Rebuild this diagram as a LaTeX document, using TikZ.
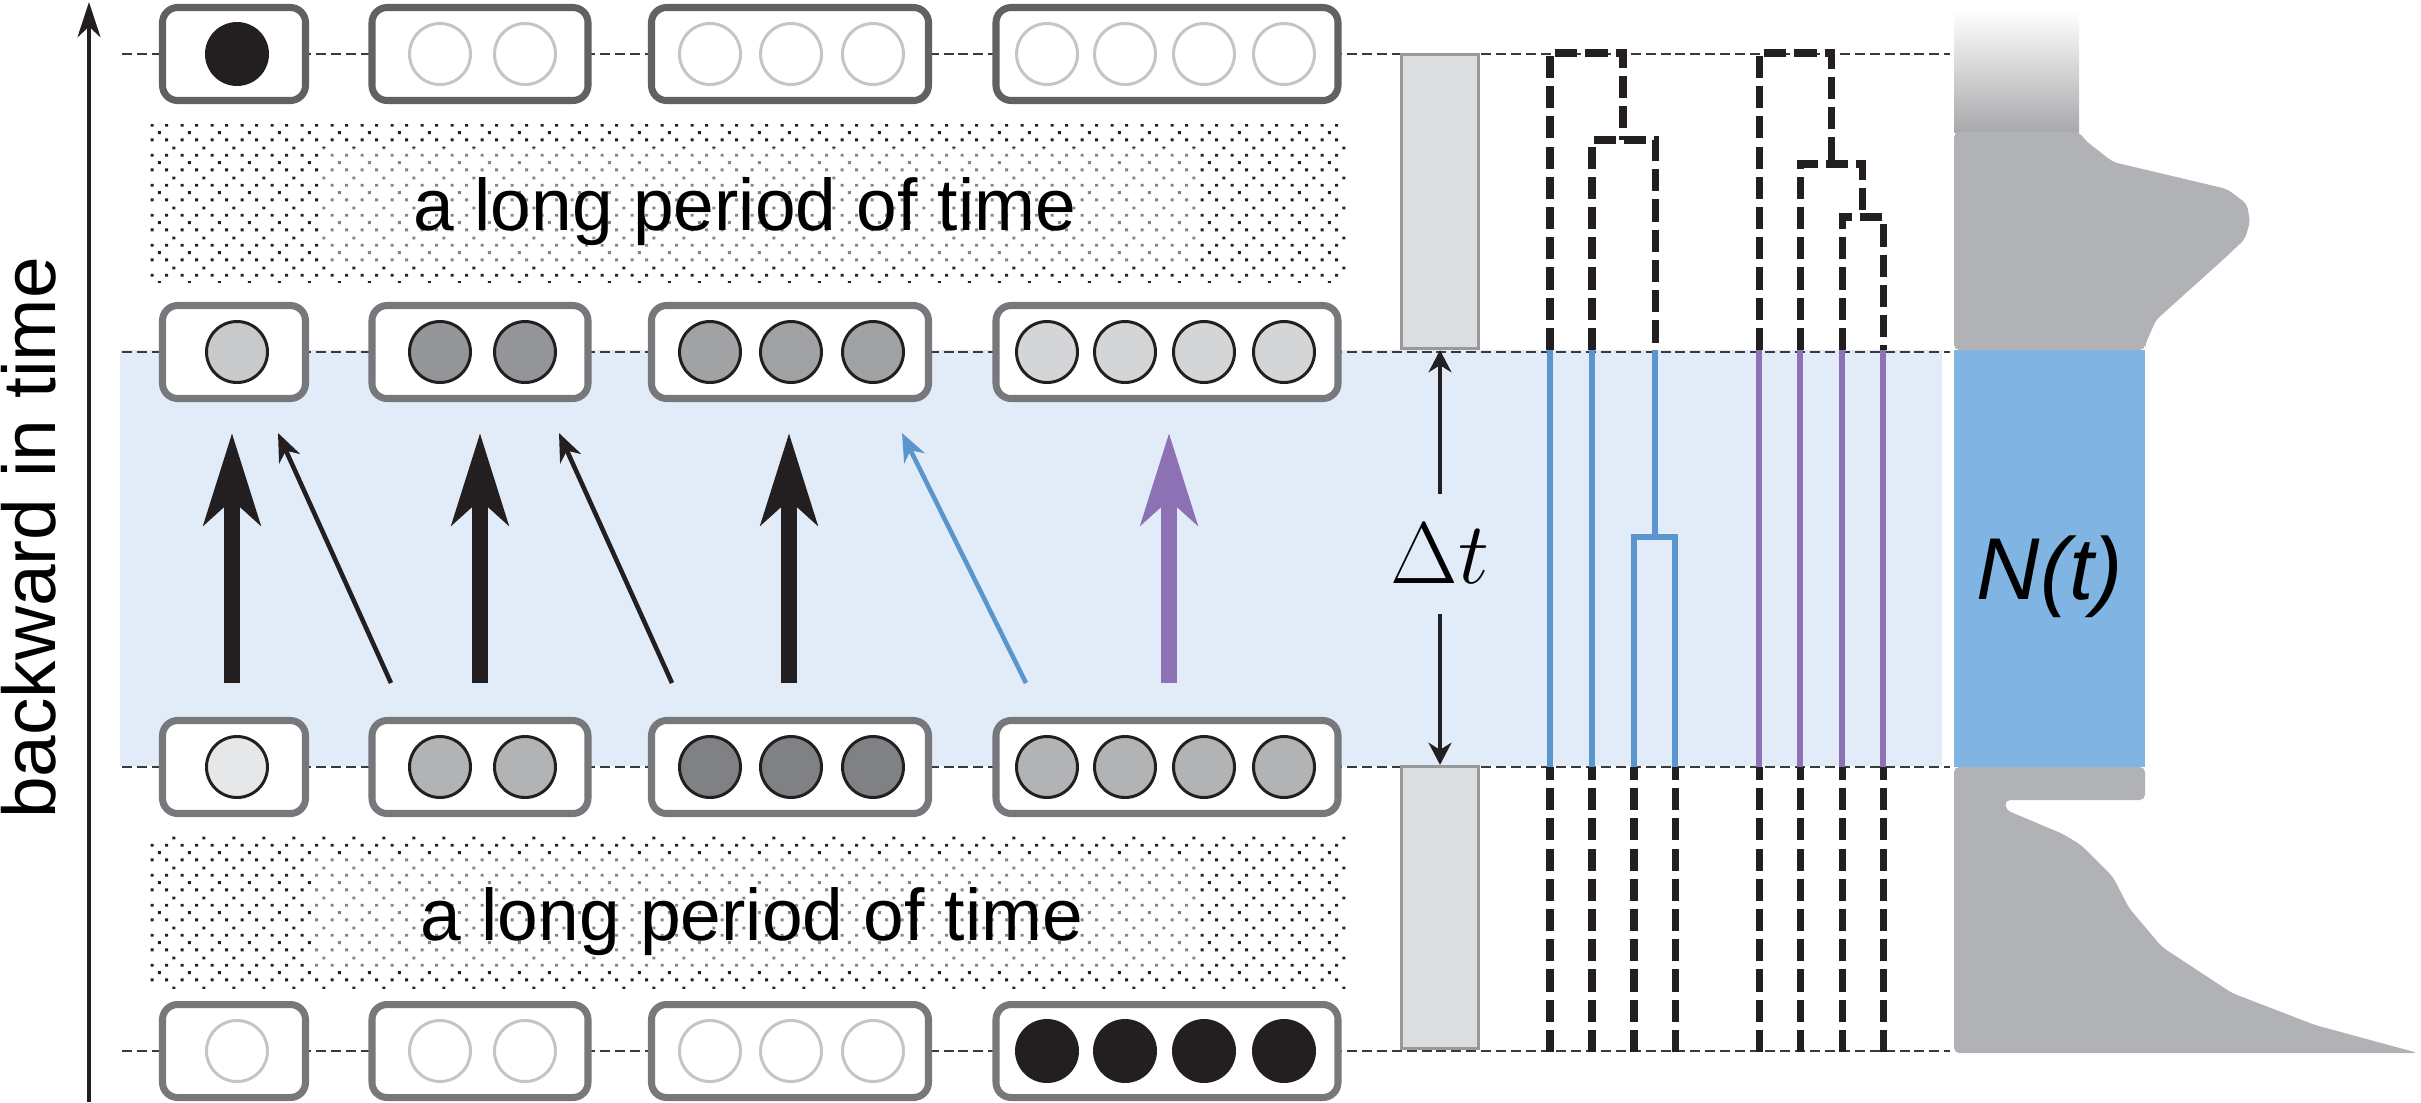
\documentclass[tikz,border=0pt]{standalone}
\usepackage{fontspec}
\newfontfamily\labelfont{Liberation Sans}
\usetikzlibrary{arrows.meta}
\usetikzlibrary{patterns.meta}
\definecolor{bandColor}{HTML}{E1ECF8}
\definecolor{nColor}{HTML}{80B5E3}
\definecolor{lineBlue}{HTML}{5A96CD}
\definecolor{linePurple}{HTML}{8C72B4}
\definecolor{inkColor}{HTML}{231F20}
\definecolor{rowColor}{HTML}{3A3A3C}
\definecolor{boxColor}{HTML}{77787B}
\definecolor{boxColorTop}{HTML}{606163}
\definecolor{emptyColor}{HTML}{C4C5C7}
\definecolor{spanFill}{HTML}{DCDDDF}
\definecolor{spanDraw}{HTML}{98999B}
\definecolor{profileColor}{HTML}{B1B2B5}
\definecolor{profileTop}{HTML}{A8A9AB}
\definecolor{greyA}{HTML}{C8C9CB}
\definecolor{greyB}{HTML}{939598}
\definecolor{greyC}{HTML}{A0A2A4}
\definecolor{greyD}{HTML}{D4D5D7}
\definecolor{greyE}{HTML}{E6E7E8}
\definecolor{greyF}{HTML}{B2B3B5}
\definecolor{greyG}{HTML}{7F8184}

\tikzdeclarepattern{
  name=stipple,
  type=uncolored,
  bottom left={(0pt,0pt)},
  top right={(8.54pt,8.54pt)},
  tile size={(8.54pt,8.54pt)},
  code={
    \fill (0.2pt,0.2pt) rectangle (1.05pt,1.05pt);
    \fill (4.47pt,0.2pt) rectangle (5.32pt,1.05pt);
    \fill (0.2pt,4.47pt) rectangle (1.05pt,5.32pt);
    \fill (4.47pt,4.47pt) rectangle (5.32pt,5.32pt);
    \fill (2.33pt,2.33pt) rectangle (3.18pt,3.18pt);
    \fill (6.6pt,6.6pt) rectangle (7.45pt,7.45pt);
  }
}

\begin{document}
\begin{tikzpicture}

          \tikzstyle{rowLine} = [draw=rowColor,line width=0.7pt,dash pattern=on 2.85pt off 1.4pt];
          \tikzstyle{popBox} = [draw=boxColor,line width=2pt,rounded corners=4.3pt,fill=white,minimum height=0.93cm,inner sep=0pt];
          \tikzstyle{popBoxTop} = [popBox,draw=boxColorTop];
          \tikzstyle{ind} = [circle,draw=inkColor,line width=0.85pt,minimum size=0.61cm,inner sep=0pt];
          \tikzstyle{emptyInd} = [ind,draw=emptyColor,fill=white];
          \tikzstyle{blackInd} = [ind,fill=inkColor];
          \tikzstyle{bigArrow} = [line width=4.5pt,-{Stealth[length=26pt,width=16pt,inset=7pt]}];
          \tikzstyle{thinArrow} = [line width=1.3pt,-{Stealth[length=8pt,width=6.5pt,inset=2.5pt]}];
          \tikzstyle{oldLine} = [draw=inkColor,line width=2pt,dash pattern=on 6.3pt off 2.3pt];
          \tikzstyle{newLine} = [line width=1.6pt];
          \tikzstyle{spanBox} = [draw=spanDraw,fill=spanFill,line width=0.9pt,minimum width=0.77cm,inner sep=0pt];
          \tikzstyle{dtArrow} = [line width=1.2pt,-{Stealth[length=6.3pt,width=6.5pt,inset=2pt]}];
          \tikzstyle{periodText} = [font=\labelfont\fontsize{20.8}{25}\selectfont,inner sep=0pt,anchor=base];

          \useasboundingbox (0,0) rectangle (24.21,-11.02);

          % the window in time
          \fill[bandColor] (1.20,-3.50) rectangle (19.42,-7.66);
          \draw[rowLine] (1.22,-0.54) -- (19.50,-0.54);
          \draw[rowLine] (1.22,-3.52) -- (19.50,-3.52);
          \draw[rowLine] (1.22,-7.67) -- (19.50,-7.67);
          \draw[rowLine] (1.22,-10.51) -- (19.50,-10.51);

          % long periods
          \fill[pattern=stipple,pattern color=inkColor] (1.50,-1.24) rectangle (13.48,-2.82);
          \fill[white,opacity=0.45] (3.20,-1.48) rectangle (12.00,-2.62);
          \fill[pattern=stipple,pattern color=inkColor] (1.49,-8.32) rectangle (13.47,-9.88);
          \fill[white,opacity=0.45] (3.15,-8.57) rectangle (11.98,-9.67);
          \node[periodText] (period1) at (7.45,-2.30) {a long period of time};
          \node[periodText] (period2) at (7.52,-9.40) {a long period of time};

          % time axis
          \coordinate (axisBot) at (0.89,-11.02);
          \coordinate (axisTop) at (0.89,-0.02);
          \draw[inkColor,line width=1.3pt,-{Stealth[length=10pt,width=6.5pt,inset=3pt]}] (axisBot) -- (axisTop);
          \node[font=\labelfont\fontsize{21.3}{26}\selectfont,rotate=90,anchor=base,inner sep=0pt] (axisLabel) at (0.55,-5.38) {backward in time};

          % row 1
          \node[popBoxTop,minimum width=1.43cm] (box11) at (2.34,-0.54) {};
          \node[popBoxTop,minimum width=2.16cm] (box12) at (4.80,-0.54) {};
          \node[popBoxTop,minimum width=2.77cm] (box13) at (7.90,-0.54) {};
          \node[popBoxTop,minimum width=3.42cm] (box14) at (11.67,-0.54) {};
          \node[blackInd] (c11a) at (2.37,-0.54) {};
          \node[emptyInd] (c12a) at (4.40,-0.54) {};
          \node[emptyInd] (c12b) at (5.25,-0.54) {};
          \node[emptyInd] (c13a) at (7.10,-0.54) {};
          \node[emptyInd] (c13b) at (7.91,-0.54) {};
          \node[emptyInd] (c13c) at (8.73,-0.54) {};
          \node[emptyInd] (c14a) at (10.47,-0.54) {};
          \node[emptyInd] (c14b) at (11.25,-0.54) {};
          \node[emptyInd] (c14c) at (12.04,-0.54) {};
          \node[emptyInd] (c14d) at (12.84,-0.54) {};

          % row 2
          \node[popBox,minimum width=1.43cm] (box21) at (2.34,-3.52) {};
          \node[popBox,minimum width=2.16cm] (box22) at (4.80,-3.52) {};
          \node[popBox,minimum width=2.77cm] (box23) at (7.90,-3.52) {};
          \node[popBox,minimum width=3.42cm] (box24) at (11.67,-3.52) {};
          \node[ind,fill=greyA] (c21a) at (2.37,-3.52) {};
          \node[ind,fill=greyB] (c22a) at (4.40,-3.52) {};
          \node[ind,fill=greyB] (c22b) at (5.25,-3.52) {};
          \node[ind,fill=greyC] (c23a) at (7.10,-3.52) {};
          \node[ind,fill=greyC] (c23b) at (7.91,-3.52) {};
          \node[ind,fill=greyC] (c23c) at (8.73,-3.52) {};
          \node[ind,fill=greyD] (c24a) at (10.47,-3.52) {};
          \node[ind,fill=greyD] (c24b) at (11.25,-3.52) {};
          \node[ind,fill=greyD] (c24c) at (12.04,-3.52) {};
          \node[ind,fill=greyD] (c24d) at (12.84,-3.52) {};

          % row 3
          \node[popBox,minimum width=1.43cm] (box31) at (2.34,-7.67) {};
          \node[popBox,minimum width=2.16cm] (box32) at (4.80,-7.67) {};
          \node[popBox,minimum width=2.77cm] (box33) at (7.90,-7.67) {};
          \node[popBox,minimum width=3.42cm] (box34) at (11.67,-7.67) {};
          \node[ind,fill=greyE] (c31a) at (2.37,-7.67) {};
          \node[ind,fill=greyF] (c32a) at (4.40,-7.67) {};
          \node[ind,fill=greyF] (c32b) at (5.25,-7.67) {};
          \node[ind,fill=greyG] (c33a) at (7.10,-7.67) {};
          \node[ind,fill=greyG] (c33b) at (7.91,-7.67) {};
          \node[ind,fill=greyG] (c33c) at (8.73,-7.67) {};
          \node[ind,fill=greyF] (c34a) at (10.47,-7.67) {};
          \node[ind,fill=greyF] (c34b) at (11.25,-7.67) {};
          \node[ind,fill=greyF] (c34c) at (12.04,-7.67) {};
          \node[ind,fill=greyF] (c34d) at (12.84,-7.67) {};

          % row 4
          \node[popBox,minimum width=1.43cm] (box41) at (2.34,-10.51) {};
          \node[popBox,minimum width=2.16cm] (box42) at (4.80,-10.51) {};
          \node[popBox,minimum width=2.77cm] (box43) at (7.90,-10.51) {};
          \node[popBox,minimum width=3.42cm] (box44) at (11.67,-10.51) {};
          \node[emptyInd] (c41a) at (2.37,-10.51) {};
          \node[emptyInd] (c42a) at (4.40,-10.51) {};
          \node[emptyInd] (c42b) at (5.25,-10.51) {};
          \node[emptyInd] (c43a) at (7.10,-10.51) {};
          \node[emptyInd] (c43b) at (7.91,-10.51) {};
          \node[emptyInd] (c43c) at (8.73,-10.51) {};
          \node[blackInd] (c44a) at (10.47,-10.51) {};
          \node[blackInd] (c44b) at (11.25,-10.51) {};
          \node[blackInd] (c44c) at (12.04,-10.51) {};
          \node[blackInd] (c44d) at (12.84,-10.51) {};

          % ancestry within the window
          \coordinate (from1) at (2.32,-6.83);
          \coordinate (to1) at (2.32,-4.33);
          \coordinate (from2) at (3.91,-6.83);
          \coordinate (to2) at (2.78,-4.33);
          \coordinate (from3) at (4.80,-6.83);
          \coordinate (to3) at (4.80,-4.33);
          \coordinate (from4) at (6.72,-6.83);
          \coordinate (to4) at (5.59,-4.33);
          \coordinate (from5) at (7.89,-6.83);
          \coordinate (to5) at (7.89,-4.33);
          \coordinate (from6) at (10.26,-6.83);
          \coordinate (to6) at (9.02,-4.33);
          \coordinate (from7) at (11.69,-6.83);
          \coordinate (to7) at (11.69,-4.33);
          \draw[bigArrow,inkColor] (from1) -- (to1);
          \draw[thinArrow,inkColor] (from2) -- (to2);
          \draw[bigArrow,inkColor] (from3) -- (to3);
          \draw[thinArrow,inkColor] (from4) -- (to4);
          \draw[bigArrow,inkColor] (from5) -- (to5);
          \draw[thinArrow,lineBlue] (from6) -- (to6);
          \draw[bigArrow,linePurple] (from7) -- (to7);

          % delta t
          \node[spanBox,minimum height=2.94cm] (spanTop) at (14.40,-2.015) {};
          \node[spanBox,minimum height=2.82cm] (spanBot) at (14.40,-9.075) {};
          \node[font=\fontsize{23}{28}\selectfont,inner sep=8.5pt] (dt) at (14.40,-5.54) {$\Delta t$};
          \draw[dtArrow,inkColor] (dt) -- (spanTop.south);
          \draw[dtArrow,inkColor] (dt) -- (spanBot.north);

          % genealogies
          \coordinate (u1) at (15.50,-3.50);
          \coordinate (u2) at (15.92,-3.50);
          \coordinate (u3) at (16.55,-3.50);
          \coordinate (u5) at (17.59,-3.50);
          \coordinate (u6) at (18.00,-3.50);
          \coordinate (u7) at (18.42,-3.50);
          \coordinate (u8) at (18.83,-3.50);
          \coordinate (d1) at (15.50,-7.67);
          \coordinate (d2) at (15.92,-7.67);
          \coordinate (d3) at (16.34,-7.67);
          \coordinate (d4) at (16.75,-7.67);
          \coordinate (d5) at (17.59,-7.67);
          \coordinate (d6) at (18.00,-7.67);
          \coordinate (d7) at (18.42,-7.67);
          \coordinate (d8) at (18.83,-7.67);
          \coordinate (s1) at (15.50,-10.52);
          \coordinate (s2) at (15.92,-10.52);
          \coordinate (s3) at (16.34,-10.52);
          \coordinate (s4) at (16.75,-10.52);
          \coordinate (s5) at (17.59,-10.52);
          \coordinate (s6) at (18.00,-10.52);
          \coordinate (s7) at (18.42,-10.52);
          \coordinate (s8) at (18.83,-10.52);
          \coordinate (rootA) at (16.23,-0.53);
          \coordinate (mB) at (16.23,-1.40);
          \coordinate (mC) at (16.55,-5.37);
          \coordinate (rootB) at (18.31,-0.53);
          \coordinate (mD) at (18.31,-1.64);
          \coordinate (mE) at (18.62,-2.17);

          \draw[oldLine] (u1) |- (rootA) -- (mB);
          \draw[oldLine] (u2) |- (mB) -| (u3);
          \draw[oldLine] (u5) |- (rootB) -- (mD);
          \draw[oldLine] (u6) |- (mD) -| (mE);
          \draw[oldLine] (u7) |- (mE) -| (u8);

          \draw[newLine,lineBlue] (d1) -- (u1);
          \draw[newLine,lineBlue] (d2) -- (u2);
          \draw[newLine,lineBlue] (u3) -- (mC);
          \draw[newLine,lineBlue] (d3) |- (mC) -| (d4);
          \draw[newLine,linePurple] (d5) -- (u5);
          \draw[newLine,linePurple] (d6) -- (u6);
          \draw[newLine,linePurple] (d7) -- (u7);
          \draw[newLine,linePurple] (d8) -- (u8);

          \draw[oldLine] (s1) -- (d1);
          \draw[oldLine] (s2) -- (d2);
          \draw[oldLine] (s3) -- (d3);
          \draw[oldLine] (s4) -- (d4);
          \draw[oldLine] (s5) -- (d5);
          \draw[oldLine] (s6) -- (d6);
          \draw[oldLine] (s7) -- (d7);
          \draw[oldLine] (s8) -- (d8);

          % population size
          \shade[top color=white,bottom color=profileTop] (19.54,-0.10) rectangle (20.79,-1.32);
          \fill[profileColor,rounded corners=1.5pt] (19.54,-1.32) -- (20.79,-1.32) -- (20.86,-1.41) -- (21.13,-1.62) -- (22.27,-1.89) -- (22.47,-2.04) -- (22.50,-2.22) -- (22.45,-2.39) -- (22.26,-2.57) -- (21.56,-3.20) -- (21.45,-3.45) -- (21.45,-3.50) -- (19.54,-3.50) -- cycle;
          \fill[nColor] (19.54,-3.50) rectangle (21.45,-7.67);
          \fill[profileColor,rounded corners=1.5pt] (19.54,-7.67) -- (21.45,-7.67) -- (21.45,-8.00) -- (20.05,-8.00) -- (20.06,-8.10) -- (20.63,-8.34) -- (20.81,-8.45) -- (21.13,-8.77) -- (21.29,-9.08) -- (21.62,-9.47) -- (22.32,-9.93) -- (23.15,-10.25) -- (24.18,-10.53) -- (19.54,-10.53) -- cycle;
          \node[font=\labelfont\itshape\fontsize{25}{30}\selectfont,anchor=base,inner sep=0pt] (Nt) at (20.50,-5.99) {N(t)};
        \end{tikzpicture}
\end{document}
